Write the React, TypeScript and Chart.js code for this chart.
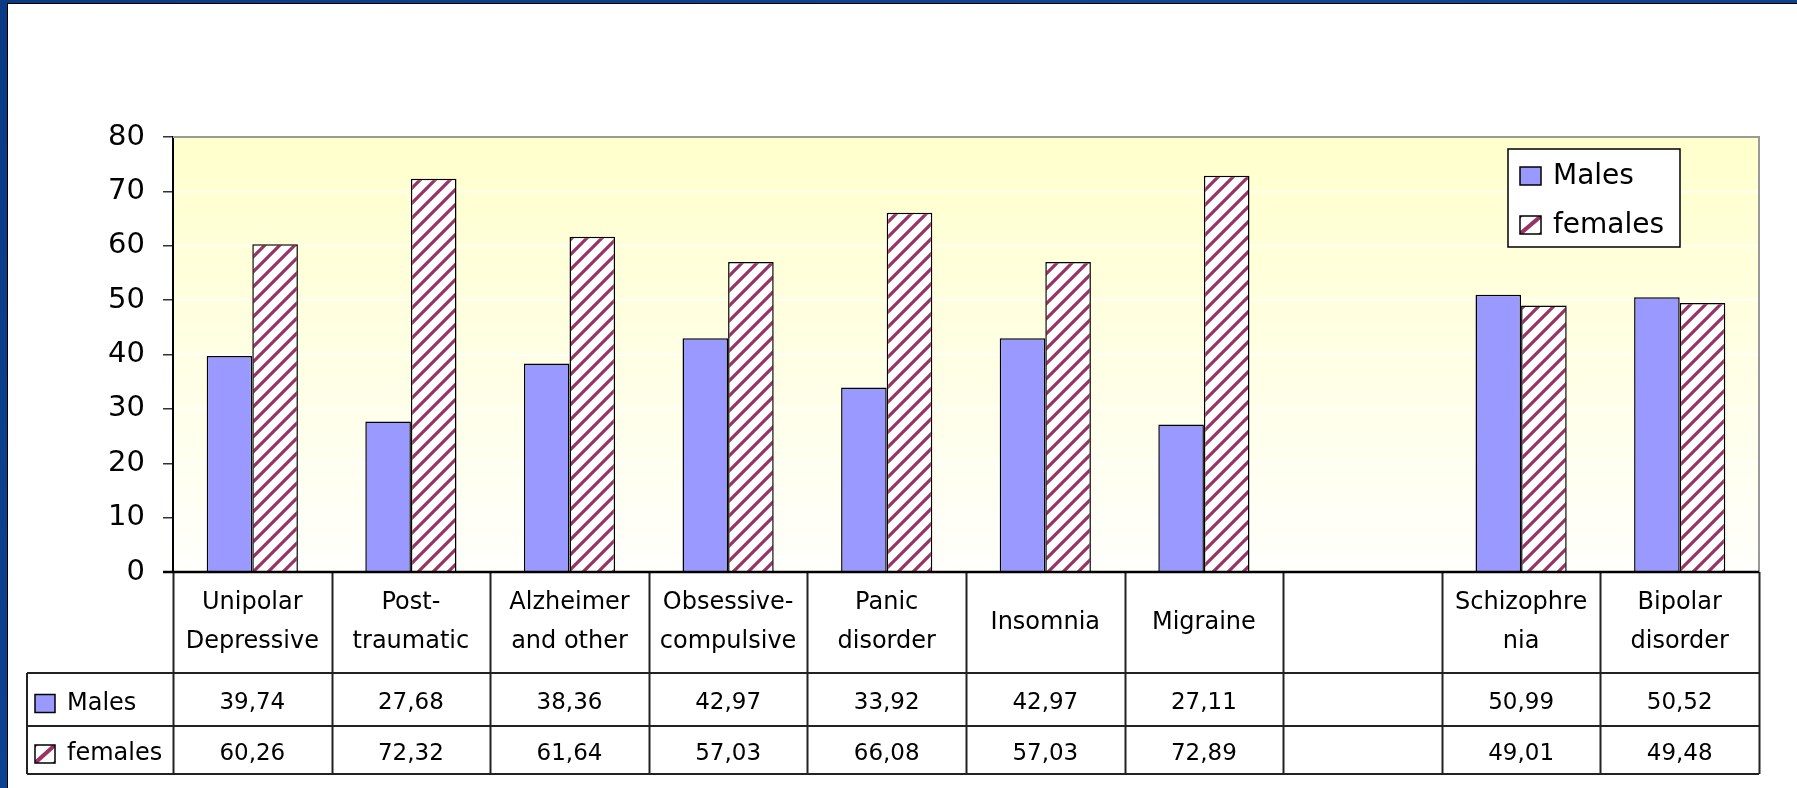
import React, { useEffect, useRef } from "react";
import { Chart, registerables } from "chart.js";

Chart.register(...registerables);

// ---- data ----
const categories: string[][] = [
  ["Unipolar", "Depressive"],
  ["Post-", "traumatic"],
  ["Alzheimer", "and other"],
  ["Obsessive-", "compulsive"],
  ["Panic", "disorder"],
  ["Insomnia"],
  ["Migraine"],
  [""],
  ["Schizophre", "nia"],
  ["Bipolar", "disorder"],
];
const males: (number | null)[] = [39.74, 27.68, 38.36, 42.97, 33.92, 42.97, 27.11, null, 50.99, 50.52];
const females: (number | null)[] = [60.26, 72.32, 61.64, 57.03, 66.08, 57.03, 72.89, null, 49.01, 49.48];
const seriesNames = ["Males", "females"];
const yTicks = [0, 10, 20, 30, 40, 50, 60, 70, 80];

// ---- styles ----
const MALE_COLOR = "#9999FF";
const STRIPE_COLOR = "#993366";
const TEXT_FONT = '"DejaVu Sans", sans-serif';

function makeStripePattern(ctx: CanvasRenderingContext2D): CanvasPattern | string {
  const t = 15;
  const c = document.createElement("canvas");
  c.width = t;
  c.height = t;
  const g = c.getContext("2d");
  if (!g) return STRIPE_COLOR;
  g.fillStyle = "#ffffff";
  g.fillRect(0, 0, t, t);
  g.strokeStyle = STRIPE_COLOR;
  g.lineWidth = 3.2;
  g.beginPath();
  g.moveTo(-t / 2, t / 2);
  g.lineTo(t / 2, -t / 2);
  g.moveTo(0, t);
  g.lineTo(t, 0);
  g.moveTo(t / 2, t * 1.5);
  g.lineTo(t * 1.5, t / 2);
  g.stroke();
  return ctx.createPattern(c, "repeat") || STRIPE_COLOR;
}

function drawSwatch(ctx: CanvasRenderingContext2D, x: number, y: number, w: number, h: number, female: boolean) {
  ctx.save();
  if (female) {
    ctx.fillStyle = "#fff";
    ctx.fillRect(x, y, w, h);
    ctx.save();
    ctx.beginPath();
    ctx.rect(x, y, w, h);
    ctx.clip();
    ctx.strokeStyle = STRIPE_COLOR;
    ctx.lineWidth = 4;
    ctx.beginPath();
    ctx.moveTo(x, y + h);
    ctx.lineTo(x + w, y);
    ctx.moveTo(x - 4, y + 4);
    ctx.lineTo(x + 4, y - 4);
    ctx.moveTo(x + w - 4, y + h + 4);
    ctx.lineTo(x + w + 4, y + h - 4);
    ctx.stroke();
    ctx.restore();
  } else {
    ctx.fillStyle = MALE_COLOR;
    ctx.fillRect(x, y, w, h);
  }
  ctx.strokeStyle = "#000";
  ctx.lineWidth = 1.5;
  ctx.strokeRect(x, y, w, h);
  ctx.restore();
}

const fmt = (v: number | null) => (v == null ? "" : v.toFixed(2).replace(".", ","));

const bgPlugin = {
  id: "plotBg",
  beforeDraw(chart: any) {
    const { ctx, chartArea: ca } = chart;
    const grad = ctx.createLinearGradient(0, ca.top, 0, ca.bottom);
    grad.addColorStop(0, "#FFFFCC");
    grad.addColorStop(1, "#FFFFFC");
    ctx.save();
    ctx.fillStyle = grad;
    ctx.fillRect(ca.left, ca.top, ca.right - ca.left, ca.bottom - ca.top);
    ctx.restore();
  },
};

const tablePlugin = {
  id: "dataTable",
  afterDraw(chart: any) {
    const { ctx, chartArea: ca } = chart;
    const xs = chart.scales.x;
    const n = categories.length;
    const cw = (ca.right - ca.left) / n;
    const top = ca.bottom;
    const headerBottom = top + 101;
    const row1Bottom = headerBottom + 53;
    const row2Bottom = row1Bottom + 48;
    const legendLeft = 27;

    ctx.save();
    // plot area top/right border
    ctx.strokeStyle = "#999";
    ctx.lineWidth = 2;
    ctx.beginPath();
    ctx.moveTo(ca.left, ca.top);
    ctx.lineTo(ca.right, ca.top);
    ctx.lineTo(ca.right, ca.bottom);
    ctx.stroke();

    // table grid
    ctx.strokeStyle = "#222";
    ctx.lineWidth = 2;
    ctx.beginPath();
    for (let i = 0; i <= n; i++) {
      const x = Math.round(ca.left + i * cw) + 0.5;
      ctx.moveTo(x, top);
      ctx.lineTo(x, row2Bottom);
    }
    ctx.moveTo(legendLeft, headerBottom);
    ctx.lineTo(ca.right, headerBottom);
    ctx.moveTo(legendLeft, row1Bottom);
    ctx.lineTo(ca.right, row1Bottom);
    ctx.moveTo(legendLeft, row2Bottom);
    ctx.lineTo(ca.right, row2Bottom);
    ctx.moveTo(legendLeft, headerBottom);
    ctx.lineTo(legendLeft, row2Bottom);
    ctx.stroke();

    // x axis line (thick)
    ctx.strokeStyle = "#000";
    ctx.lineWidth = 2.5;
    ctx.beginPath();
    ctx.moveTo(ca.left - 10, top);
    ctx.lineTo(ca.right, top);
    ctx.stroke();

    // texts
    ctx.fillStyle = "#000";
    ctx.textAlign = "center";
    ctx.textBaseline = "middle";
    ctx.font = `24px ${TEXT_FONT}`;
    const headerMid = (top + headerBottom) / 2;
    const lh = 39;
    categories.forEach((lines, i) => {
      const cx = xs.getPixelForValue(i);
      const y0 = headerMid - ((lines.length - 1) * lh) / 2;
      lines.forEach((ln, j) => ctx.fillText(ln, cx, y0 + j * lh));
    });
    ctx.font = `23px ${TEXT_FONT}`;
    const r1 = (headerBottom + row1Bottom) / 2 + 4;
    const r2 = (row1Bottom + row2Bottom) / 2 + 4;
    males.forEach((v, i) => ctx.fillText(fmt(v), xs.getPixelForValue(i), r1));
    females.forEach((v, i) => ctx.fillText(fmt(v), xs.getPixelForValue(i), r2));

    // row legends
    ctx.textAlign = "left";
    ctx.font = `24px ${TEXT_FONT}`;
    drawSwatch(ctx, 35, r1 - 9, 20, 18, false);
    ctx.fillStyle = "#000";
    ctx.fillText(seriesNames[0], 67, r1);
    drawSwatch(ctx, 35, r2 - 9, 20, 18, true);
    ctx.fillStyle = "#000";
    ctx.fillText(seriesNames[1], 67, r2);

    // chart legend box
    const lx = 1508, ly = 149, lw = 172, lhh = 98;
    ctx.fillStyle = "#fff";
    ctx.fillRect(lx, ly, lw, lhh);
    ctx.strokeStyle = "#000";
    ctx.lineWidth = 1.5;
    ctx.strokeRect(lx, ly, lw, lhh);
    ctx.font = `28px ${TEXT_FONT}`;
    drawSwatch(ctx, 1520, 167, 21, 18, false);
    ctx.fillStyle = "#000";
    ctx.fillText(seriesNames[0], 1553, 177);
    drawSwatch(ctx, 1520, 216, 21, 18, true);
    ctx.fillStyle = "#000";
    ctx.fillText(seriesNames[1], 1553, 226);
    ctx.restore();
  },
};

export default function App() {
  const ref = useRef<HTMLCanvasElement | null>(null);

  useEffect(() => {
    const canvas = ref.current;
    if (!canvas) return;
    const ctx = canvas.getContext("2d");
    if (!ctx) return;
    const pattern = makeStripePattern(ctx);
    const chart = new Chart(ctx, {
      type: "bar",
      data: {
        labels: categories.map((c) => c.join(" ")),
        datasets: [
          {
            label: seriesNames[0],
            data: males,
            backgroundColor: MALE_COLOR,
            borderColor: "#000",
            borderWidth: 1.5,
            categoryPercentage: 0.575,
            barPercentage: 1,
          },
          {
            label: seriesNames[1],
            data: females,
            backgroundColor: pattern as any,
            borderColor: "#000",
            borderWidth: 1.5,
            categoryPercentage: 0.575,
            barPercentage: 1,
          },
        ],
      },
      options: {
        responsive: false,
        animation: false,
        devicePixelRatio: 1,
        layout: { padding: { left: 0, top: 137, right: 38, bottom: 216 } },
        plugins: {
          legend: { display: false },
          tooltip: { enabled: false },
        },
        scales: {
          x: {
            display: false,
          },
          y: {
            min: 0,
            max: 80,
            afterBuildTicks: (scale: any) => {
              scale.ticks = yTicks.map((v) => ({ value: v }));
            },
            afterFit: (scale: any) => {
              scale.width = 173;
            },
            ticks: {
              color: "#000",
              font: { family: "DejaVu Sans", size: 29 },
              padding: 18,
            },
            grid: {
              color: "#ffffff",
              lineWidth: 1.5,
              tickColor: "#333",
              tickLength: 10,
            },
            border: { color: "#000", width: 2 },
          },
        },
      },
      plugins: [bgPlugin, tablePlugin],
    });
    return () => chart.destroy();
  }, []);

  return (
    <div
      style={{
        position: "fixed",
        left: 0,
        top: 0,
        width: 1797,
        height: 788,
        overflow: "hidden",
        background: "linear-gradient(135deg, #0a3a86 0%, #0f4796 50%, #0a3a86 100%)",
      }}
    >
      <div
        style={{
          position: "absolute",
          left: 7,
          top: 3,
          width: 1810,
          height: 800,
          background: "#fff",
          borderLeft: "1.5px solid #000",
          borderTop: "1.5px solid #000",
        }}
      />
      <canvas
        ref={ref}
        width={1797}
        height={788}
        style={{ position: "absolute", left: 0, top: 0, display: "block" }}
      />
    </div>
  );
}
